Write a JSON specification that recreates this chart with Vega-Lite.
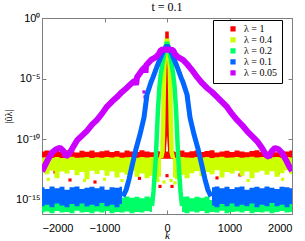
{
"$schema":"https://vega.github.io/schema/vega-lite/v6.json",
"width":250,"height":196,
"autosize":"none",
"padding":{"left":42,"top":18,"right":13,"bottom":27},
"background":"white",
"title":{"text":"t = 0.1","font":"Liberation Serif","fontSize":12,"fontWeight":"normal","offset":-2,"color":"black"},
"config":{"view":{"stroke":"#7f7f7f","strokeWidth":1},"axis":{"grid":false,"domain":false,"tickColor":"#7f7f7f","tickSize":-4,"labelFont":"Liberation Sans","labelFontSize":11,"labelColor":"black"}},
"datasets":{
"pt":[
{"l":"1","k":-1552,"v":4.4e-14},{"l":"1","k":-1152,"v":3e-14},{"l":"1","k":-1792,"v":2e-13},{"l":"1","k":800,"v":6.5e-14},{"l":"1","k":1168,"v":1.15e-13},{"l":"1","k":1776,"v":1.66e-13},{"l":"1","k":-112,"v":1.3e-14},{"l":"1","k":80,"v":1.3e-14},{"l":"1","k":0,"v":1e-13},{"l":"1","k":-440,"v":6e-14},
{"l":"0.4","k":-144,"v":4e-14},{"l":"0.4","k":-48,"v":3e-14},{"l":"0.4","k":64,"v":4e-14},{"l":"0.4","k":128,"v":2.5e-14},{"l":"0.4","k":-1320,"v":4e-14},{"l":"0.4","k":-1000,"v":5e-14},{"l":"0.4","k":-720,"v":4e-14},{"l":"0.4","k":600,"v":5e-14},{"l":"0.4","k":1300,"v":4e-14},{"l":"0.4","k":1850,"v":5e-14},{"l":"0.4","k":-1900,"v":5e-14},
{"l":"0.05","k":-352,"v":3.1e-7},{"l":"0.05","k":-368,"v":8e-7},{"l":"0.05","k":336,"v":3.2e-7}
],
"rf":[
{"l":"1","k":-2000,"hi":1e-11},{"l":"1","k":-1920,"hi":1.2e-11},{"l":"1","k":-1840,"hi":8.5e-12},{"l":"1","k":-1760,"hi":1.1e-11},{"l":"1","k":-1680,"hi":9e-12},{"l":"1","k":-1600,"hi":1.25e-11},{"l":"1","k":-1520,"hi":1e-11},{"l":"1","k":-1440,"hi":8e-12},{"l":"1","k":-1360,"hi":1.15e-11},{"l":"1","k":-1280,"hi":9.5e-12},{"l":"1","k":-1200,"hi":1.2e-11},{"l":"1","k":-1120,"hi":8.5e-12},{"l":"1","k":-1040,"hi":1.05e-11},{"l":"1","k":-960,"hi":1.2e-11},{"l":"1","k":-880,"hi":9e-12},{"l":"1","k":-800,"hi":1.1e-11},{"l":"1","k":-720,"hi":8e-12},{"l":"1","k":-640,"hi":1.2e-11},{"l":"1","k":-560,"hi":1e-11},{"l":"1","k":-480,"hi":9e-12},{"l":"1","k":-400,"hi":1.25e-11},{"l":"1","k":-320,"hi":1e-11},{"l":"1","k":-240,"hi":8.5e-12},{"l":"1","k":-160,"hi":1.1e-11},{"l":"1","k":-80,"hi":9e-12},{"l":"1","k":-40,"hi":1e-11},
{"l":"1","k":40,"hi":1e-11},{"l":"1","k":80,"hi":1.1e-11},{"l":"1","k":160,"hi":9e-12},{"l":"1","k":240,"hi":1.2e-11},{"l":"1","k":320,"hi":8.5e-12},{"l":"1","k":400,"hi":1.05e-11},{"l":"1","k":480,"hi":1.2e-11},{"l":"1","k":560,"hi":9e-12},{"l":"1","k":640,"hi":1.1e-11},{"l":"1","k":720,"hi":1.25e-11},{"l":"1","k":800,"hi":8e-12},{"l":"1","k":880,"hi":1e-11},{"l":"1","k":960,"hi":1.15e-11},{"l":"1","k":1040,"hi":9e-12},{"l":"1","k":1120,"hi":1.2e-11},{"l":"1","k":1200,"hi":1e-11},{"l":"1","k":1280,"hi":8.5e-12},{"l":"1","k":1360,"hi":1.1e-11},{"l":"1","k":1440,"hi":1.25e-11},{"l":"1","k":1520,"hi":9e-12},{"l":"1","k":1600,"hi":1e-11},{"l":"1","k":1680,"hi":1.2e-11},{"l":"1","k":1760,"hi":8.5e-12},{"l":"1","k":1840,"hi":1.1e-11},{"l":"1","k":1920,"hi":1e-11},{"l":"1","k":2000,"hi":1.2e-11}
],
"rc":[
{"l":"1","k":-48,"v":5.6e-12},{"l":"1","k":-20,"v":1e-9},{"l":"1","k":-8,"v":1e-5},{"l":"1","k":-3,"v":0.01},{"l":"1","k":0,"v":0.078},{"l":"1","k":3,"v":0.01},{"l":"1","k":8,"v":1e-5},{"l":"1","k":20,"v":1e-9},{"l":"1","k":48,"v":5.6e-12}
],
"yf":[
{"l":"0.4","sd":"L","k":-2000,"hi":3.2e-12,"lo":2e-13},{"l":"0.4","sd":"L","k":-1920,"hi":3.5e-12,"lo":1.3e-13},{"l":"0.4","sd":"L","k":-1840,"hi":3e-12,"lo":2.5e-13},{"l":"0.4","sd":"L","k":-1760,"hi":3.4e-12,"lo":6e-14},{"l":"0.4","sd":"L","k":-1680,"hi":2.9e-12,"lo":2.2e-13},{"l":"0.4","sd":"L","k":-1600,"hi":3.3e-12,"lo":1.5e-13},{"l":"0.4","sd":"L","k":-1520,"hi":3.6e-12,"lo":3e-13},{"l":"0.4","sd":"L","k":-1440,"hi":3e-12,"lo":1.1e-13},{"l":"0.4","sd":"L","k":-1360,"hi":3.2e-12,"lo":2e-13},{"l":"0.4","sd":"L","k":-1280,"hi":3.5e-12,"lo":5e-14},{"l":"0.4","sd":"L","k":-1200,"hi":2.9e-12,"lo":2.5e-13},{"l":"0.4","sd":"L","k":-1120,"hi":3.3e-12,"lo":1.4e-13},{"l":"0.4","sd":"L","k":-1040,"hi":3e-12,"lo":2.8e-13},{"l":"0.4","sd":"L","k":-960,"hi":3.4e-12,"lo":1e-13},{"l":"0.4","sd":"L","k":-880,"hi":3.1e-12,"lo":2.2e-13},{"l":"0.4","sd":"L","k":-800,"hi":3.6e-12,"lo":7e-14},{"l":"0.4","sd":"L","k":-720,"hi":3e-12,"lo":1.8e-13},{"l":"0.4","sd":"L","k":-640,"hi":3.3e-12,"lo":1.2e-13},{"l":"0.4","sd":"L","k":-560,"hi":3.5e-12,"lo":2.5e-13},{"l":"0.4","sd":"L","k":-480,"hi":3e-12,"lo":8e-14},{"l":"0.4","sd":"L","k":-400,"hi":3.4e-12,"lo":1.5e-13},{"l":"0.4","sd":"L","k":-320,"hi":3.1e-12,"lo":6e-14},{"l":"0.4","sd":"L","k":-240,"hi":3.5e-12,"lo":1e-13},{"l":"0.4","sd":"L","k":-160,"hi":3.2e-12,"lo":5e-14},{"l":"0.4","sd":"L","k":-96,"hi":3.6e-12,"lo":8e-14},
{"l":"0.4","sd":"R","k":96,"hi":3.4e-12,"lo":7e-14},{"l":"0.4","sd":"R","k":160,"hi":3e-12,"lo":5e-14},{"l":"0.4","sd":"R","k":240,"hi":3.5e-12,"lo":1.2e-13},{"l":"0.4","sd":"R","k":320,"hi":3.2e-12,"lo":6e-14},{"l":"0.4","sd":"R","k":400,"hi":3e-12,"lo":1.6e-13},{"l":"0.4","sd":"R","k":480,"hi":3.4e-12,"lo":2.4e-13},{"l":"0.4","sd":"R","k":560,"hi":3.1e-12,"lo":9e-14},{"l":"0.4","sd":"R","k":640,"hi":3.5e-12,"lo":2e-13},{"l":"0.4","sd":"R","k":720,"hi":2.9e-12,"lo":1.3e-13},{"l":"0.4","sd":"R","k":800,"hi":3.3e-12,"lo":2.8e-13},{"l":"0.4","sd":"R","k":880,"hi":3.6e-12,"lo":7e-14},{"l":"0.4","sd":"R","k":960,"hi":3e-12,"lo":2e-13},{"l":"0.4","sd":"R","k":1040,"hi":3.2e-12,"lo":1.5e-13},{"l":"0.4","sd":"R","k":1120,"hi":3.5e-12,"lo":2.6e-13},{"l":"0.4","sd":"R","k":1200,"hi":3e-12,"lo":1e-13},{"l":"0.4","sd":"R","k":1280,"hi":3.3e-12,"lo":2.2e-13},{"l":"0.4","sd":"R","k":1360,"hi":3.6e-12,"lo":6e-14},{"l":"0.4","sd":"R","k":1440,"hi":3.1e-12,"lo":1.8e-13},{"l":"0.4","sd":"R","k":1520,"hi":3.4e-12,"lo":2.5e-13},{"l":"0.4","sd":"R","k":1600,"hi":3e-12,"lo":1.2e-13},{"l":"0.4","sd":"R","k":1680,"hi":3.3e-12,"lo":2.3e-13},{"l":"0.4","sd":"R","k":1760,"hi":3.5e-12,"lo":8e-14},{"l":"0.4","sd":"R","k":1840,"hi":3e-12,"lo":1.6e-13},{"l":"0.4","sd":"R","k":1920,"hi":3.4e-12,"lo":2.8e-13},{"l":"0.4","sd":"R","k":2000,"hi":3.1e-12,"lo":1.4e-13}
],
"yc":[
{"l":"0.4","k":-96,"v":2.8e-12},{"l":"0.4","k":-72,"v":1e-11},{"l":"0.4","k":-60,"v":3.2e-9},{"l":"0.4","k":-52,"v":1e-6},{"l":"0.4","k":-44,"v":6.3e-5},{"l":"0.4","k":-32,"v":0.001},{"l":"0.4","k":-16,"v":0.0079},{"l":"0.4","k":0,"v":0.0186},{"l":"0.4","k":16,"v":0.0079},{"l":"0.4","k":32,"v":0.001},{"l":"0.4","k":44,"v":6.3e-5},{"l":"0.4","k":52,"v":1e-6},{"l":"0.4","k":60,"v":3.2e-9},{"l":"0.4","k":72,"v":1e-11},{"l":"0.4","k":96,"v":2.8e-12}
],
"gf":[
{"l":"0.2","sd":"L","k":-2000,"hi":1e-15,"lo":9e-17},{"l":"0.2","sd":"L","k":-1920,"hi":7e-16,"lo":1.1e-16},{"l":"0.2","sd":"L","k":-1840,"hi":1.3e-15,"lo":8e-17},{"l":"0.2","sd":"L","k":-1760,"hi":8e-16,"lo":1.2e-16},{"l":"0.2","sd":"L","k":-1680,"hi":1.1e-15,"lo":9e-17},{"l":"0.2","sd":"L","k":-1600,"hi":6e-16,"lo":1e-16},{"l":"0.2","sd":"L","k":-1520,"hi":1.2e-15,"lo":8e-17},{"l":"0.2","sd":"L","k":-1440,"hi":9e-16,"lo":1.3e-16},{"l":"0.2","sd":"L","k":-1360,"hi":7e-16,"lo":9e-17},{"l":"0.2","sd":"L","k":-1280,"hi":1.3e-15,"lo":1e-16},{"l":"0.2","sd":"L","k":-1200,"hi":1e-15,"lo":8e-17},{"l":"0.2","sd":"L","k":-1120,"hi":8e-16,"lo":1.1e-16},{"l":"0.2","sd":"L","k":-1040,"hi":1.2e-15,"lo":9e-17},{"l":"0.2","sd":"L","k":-960,"hi":7e-16,"lo":1.2e-16},{"l":"0.2","sd":"L","k":-880,"hi":1.1e-15,"lo":8e-17},{"l":"0.2","sd":"L","k":-800,"hi":9e-16,"lo":1e-16},{"l":"0.2","sd":"L","k":-720,"hi":1.6e-15,"lo":9e-17},{"l":"0.2","sd":"L","k":-640,"hi":1.9e-15,"lo":1.1e-16},{"l":"0.2","sd":"L","k":-560,"hi":1.5e-15,"lo":8e-17},{"l":"0.2","sd":"L","k":-480,"hi":1.8e-15,"lo":1e-16},{"l":"0.2","sd":"L","k":-400,"hi":1.4e-15,"lo":9e-17},{"l":"0.2","sd":"L","k":-320,"hi":1.9e-15,"lo":1.2e-16},{"l":"0.2","sd":"L","k":-240,"hi":1.6e-15,"lo":1e-16},
{"l":"0.2","sd":"R","k":240,"hi":1.7e-15,"lo":1e-16},{"l":"0.2","sd":"R","k":320,"hi":1.9e-15,"lo":8e-17},{"l":"0.2","sd":"R","k":400,"hi":1.4e-15,"lo":1.1e-16},{"l":"0.2","sd":"R","k":480,"hi":1.8e-15,"lo":9e-17},{"l":"0.2","sd":"R","k":560,"hi":1.5e-15,"lo":1.2e-16},{"l":"0.2","sd":"R","k":640,"hi":1.9e-15,"lo":8e-17},{"l":"0.2","sd":"R","k":720,"hi":1e-15,"lo":1e-16},{"l":"0.2","sd":"R","k":800,"hi":8e-16,"lo":9e-17},{"l":"0.2","sd":"R","k":880,"hi":1.2e-15,"lo":1.3e-16},{"l":"0.2","sd":"R","k":960,"hi":7e-16,"lo":8e-17},{"l":"0.2","sd":"R","k":1040,"hi":1.1e-15,"lo":1e-16},{"l":"0.2","sd":"R","k":1120,"hi":9e-16,"lo":1.1e-16},{"l":"0.2","sd":"R","k":1200,"hi":1.3e-15,"lo":9e-17},{"l":"0.2","sd":"R","k":1280,"hi":7e-16,"lo":1.2e-16},{"l":"0.2","sd":"R","k":1360,"hi":1e-15,"lo":8e-17},{"l":"0.2","sd":"R","k":1440,"hi":1.2e-15,"lo":1e-16},{"l":"0.2","sd":"R","k":1520,"hi":8e-16,"lo":9e-17},{"l":"0.2","sd":"R","k":1600,"hi":1.1e-15,"lo":1.1e-16},{"l":"0.2","sd":"R","k":1680,"hi":6e-16,"lo":8e-17},{"l":"0.2","sd":"R","k":1760,"hi":1.3e-15,"lo":1e-16},{"l":"0.2","sd":"R","k":1840,"hi":9e-16,"lo":1.2e-16},{"l":"0.2","sd":"R","k":1920,"hi":1.1e-15,"lo":9e-17},{"l":"0.2","sd":"R","k":2000,"hi":8e-16,"lo":1e-16}
],
"gc":[
{"l":"0.2","k":-240,"v":3.2e-16},{"l":"0.2","k":-216,"v":5e-15},{"l":"0.2","k":-192,"v":3.2e-13},{"l":"0.2","k":-176,"v":6.3e-12},{"l":"0.2","k":-160,"v":5e-10},{"l":"0.2","k":-144,"v":3.2e-8},{"l":"0.2","k":-120,"v":2.5e-6},{"l":"0.2","k":-96,"v":3.2e-5},{"l":"0.2","k":-64,"v":3.2e-4},{"l":"0.2","k":-32,"v":0.0025},{"l":"0.2","k":0,"v":0.0105},{"l":"0.2","k":32,"v":0.0025},{"l":"0.2","k":64,"v":3.2e-4},{"l":"0.2","k":96,"v":3.2e-5},{"l":"0.2","k":120,"v":2.5e-6},{"l":"0.2","k":144,"v":3.2e-8},{"l":"0.2","k":160,"v":5e-10},{"l":"0.2","k":176,"v":6.3e-12},{"l":"0.2","k":192,"v":3.2e-13},{"l":"0.2","k":216,"v":5e-15},{"l":"0.2","k":240,"v":3.2e-16}
],
"bf":[
{"l":"0.1","sd":"L","k":-2000,"hi":1.1e-14,"lo":3e-16},{"l":"0.1","sd":"L","k":-1920,"hi":8e-15,"lo":4e-16},{"l":"0.1","sd":"L","k":-1840,"hi":1.3e-14,"lo":2.5e-16},{"l":"0.1","sd":"L","k":-1760,"hi":9e-15,"lo":5e-16},{"l":"0.1","sd":"L","k":-1680,"hi":1.2e-14,"lo":3.5e-16},{"l":"0.1","sd":"L","k":-1600,"hi":7e-15,"lo":2.5e-16},{"l":"0.1","sd":"L","k":-1520,"hi":1.1e-14,"lo":4.5e-16},{"l":"0.1","sd":"L","k":-1440,"hi":1.3e-14,"lo":3e-16},{"l":"0.1","sd":"L","k":-1360,"hi":8e-15,"lo":5e-16},{"l":"0.1","sd":"L","k":-1280,"hi":1e-14,"lo":2.8e-16},{"l":"0.1","sd":"L","k":-1200,"hi":1.2e-14,"lo":4e-16},{"l":"0.1","sd":"L","k":-1120,"hi":9e-15,"lo":3e-16},{"l":"0.1","sd":"L","k":-1040,"hi":1.3e-14,"lo":5.5e-16},{"l":"0.1","sd":"L","k":-960,"hi":7e-15,"lo":3e-16},{"l":"0.1","sd":"L","k":-880,"hi":1.1e-14,"lo":4e-16},{"l":"0.1","sd":"L","k":-800,"hi":1e-14,"lo":2.5e-16},{"l":"0.1","sd":"L","k":-720,"hi":1.2e-14,"lo":4.5e-16},
{"l":"0.1","sd":"R","k":720,"hi":1.1e-14,"lo":3.5e-16},{"l":"0.1","sd":"R","k":800,"hi":1.3e-14,"lo":2.5e-16},{"l":"0.1","sd":"R","k":880,"hi":9e-15,"lo":4.5e-16},{"l":"0.1","sd":"R","k":960,"hi":1.2e-14,"lo":3e-16},{"l":"0.1","sd":"R","k":1040,"hi":8e-15,"lo":5e-16},{"l":"0.1","sd":"R","k":1120,"hi":1.1e-14,"lo":2.8e-16},{"l":"0.1","sd":"R","k":1200,"hi":1.3e-14,"lo":4e-16},{"l":"0.1","sd":"R","k":1280,"hi":7e-15,"lo":3e-16},{"l":"0.1","sd":"R","k":1360,"hi":1e-14,"lo":5e-16},{"l":"0.1","sd":"R","k":1440,"hi":1.2e-14,"lo":2.5e-16},{"l":"0.1","sd":"R","k":1520,"hi":9e-15,"lo":4e-16},{"l":"0.1","sd":"R","k":1600,"hi":1.3e-14,"lo":3e-16},{"l":"0.1","sd":"R","k":1680,"hi":1e-14,"lo":5.5e-16},{"l":"0.1","sd":"R","k":1760,"hi":8e-15,"lo":3e-16},{"l":"0.1","sd":"R","k":1840,"hi":1.2e-14,"lo":4e-16},{"l":"0.1","sd":"R","k":1920,"hi":1.1e-14,"lo":2.5e-16},{"l":"0.1","sd":"R","k":2000,"hi":9e-15,"lo":4.5e-16}
],
"bc":[
{"l":"0.1","k":-704,"v":2e-15},{"l":"0.1","k":-656,"v":6.3e-15},{"l":"0.1","k":-608,"v":5e-14},{"l":"0.1","k":-560,"v":6.3e-13},{"l":"0.1","k":-496,"v":1.6e-11},{"l":"0.1","k":-432,"v":2.5e-10},{"l":"0.1","k":-368,"v":6.3e-9},{"l":"0.1","k":-320,"v":5e-7},{"l":"0.1","k":-256,"v":5e-6},{"l":"0.1","k":-224,"v":1.26e-5},{"l":"0.1","k":-160,"v":1e-4},{"l":"0.1","k":-96,"v":6.3e-4},{"l":"0.1","k":-64,"v":0.0016},{"l":"0.1","k":-32,"v":0.0032},{"l":"0.1","k":0,"v":0.0054},{"l":"0.1","k":32,"v":0.0032},{"l":"0.1","k":64,"v":0.0016},{"l":"0.1","k":96,"v":6.3e-4},{"l":"0.1","k":160,"v":1e-4},{"l":"0.1","k":224,"v":1.26e-5},{"l":"0.1","k":256,"v":5e-6},{"l":"0.1","k":320,"v":5e-7},{"l":"0.1","k":368,"v":6.3e-9},{"l":"0.1","k":432,"v":2.5e-10},{"l":"0.1","k":496,"v":1.6e-11},{"l":"0.1","k":560,"v":6.3e-13},{"l":"0.1","k":608,"v":5e-14},{"l":"0.1","k":656,"v":6.3e-15},{"l":"0.1","k":704,"v":2e-15}
],
"mc":[
{"l":"0.05","k":-2000,"v":2.2e-13},{"l":"0.05","k":-1952,"v":7e-13},{"l":"0.05","k":-1904,"v":2.2e-12},{"l":"0.05","k":-1840,"v":8e-12},{"l":"0.05","k":-1776,"v":1.5e-11},{"l":"0.05","k":-1712,"v":2e-11},{"l":"0.05","k":-1664,"v":1.2e-11},{"l":"0.05","k":-1616,"v":3.8e-12},{"l":"0.05","k":-1568,"v":6e-12},{"l":"0.05","k":-1504,"v":2.2e-11},{"l":"0.05","k":-1440,"v":8e-11},{"l":"0.05","k":-1360,"v":2e-10},{"l":"0.05","k":-1280,"v":5e-10},{"l":"0.05","k":-1200,"v":1.6e-9},{"l":"0.05","k":-1120,"v":4e-9},{"l":"0.05","k":-1040,"v":1.3e-8},{"l":"0.05","k":-960,"v":5e-8},{"l":"0.05","k":-880,"v":1.3e-7},{"l":"0.05","k":-800,"v":3e-7},{"l":"0.05","k":-720,"v":8e-7},{"l":"0.05","k":-640,"v":1.8e-6},{"l":"0.05","k":-560,"v":4.5e-6},{"l":"0.05","k":-512,"v":7e-6},{"l":"0.05","k":-496,"v":3e-6},{"l":"0.05","k":-480,"v":1.3e-5},{"l":"0.05","k":-400,"v":5e-5},{"l":"0.05","k":-352,"v":9e-5},{"l":"0.05","k":-344,"v":3e-5},{"l":"0.05","k":-336,"v":1.2e-4},{"l":"0.05","k":-256,"v":3.5e-4},{"l":"0.05","k":-176,"v":6e-4},{"l":"0.05","k":-128,"v":0.0011},{"l":"0.05","k":-96,"v":0.0024},
{"l":"0.05","k":0,"v":0.0025},{"l":"0.05","k":96,"v":0.0023},{"l":"0.05","k":128,"v":0.00107},{"l":"0.05","k":176,"v":6e-4},{"l":"0.05","k":256,"v":3.5e-4},{"l":"0.05","k":320,"v":1.6e-4},{"l":"0.05","k":400,"v":5.1e-5},{"l":"0.05","k":480,"v":1.38e-5},{"l":"0.05","k":560,"v":4.4e-6},{"l":"0.05","k":640,"v":1.7e-6},{"l":"0.05","k":720,"v":7.9e-7},{"l":"0.05","k":800,"v":3.1e-7},{"l":"0.05","k":880,"v":1.2e-7},{"l":"0.05","k":960,"v":4.6e-8},{"l":"0.05","k":1040,"v":1.23e-8},{"l":"0.05","k":1120,"v":3.9e-9},{"l":"0.05","k":1200,"v":1.5e-9},{"l":"0.05","k":1280,"v":4.8e-10},{"l":"0.05","k":1360,"v":1.86e-10},{"l":"0.05","k":1440,"v":7.2e-11},{"l":"0.05","k":1520,"v":1.9e-11},{"l":"0.05","k":1584,"v":5.1e-12},{"l":"0.05","k":1632,"v":3.5e-12},{"l":"0.05","k":1680,"v":1.1e-11},{"l":"0.05","k":1728,"v":1.9e-11},{"l":"0.05","k":1776,"v":1.58e-11},{"l":"0.05","k":1840,"v":7.4e-12},{"l":"0.05","k":1904,"v":1.95e-12},{"l":"0.05","k":1952,"v":6.3e-13},{"l":"0.05","k":2000,"v":2.45e-13}
]
},
"encoding":{
"x":{"field":"k","type":"quantitative","scale":{"domain":[-2000,2000],"nice":false,"zero":false},"axis":null},
"color":{"field":"l","type":"nominal","scale":{"domain":["1","0.4","0.2","0.1","0.05"],"range":["#ff0000","#ccff00","#00ff66","#0066ff","#cc00ff"]},"legend":null}
},
"layer":[
{"data":{"name":"pt"},"mark":{"type":"point","shape":"square","filled":true,"size":10,"opacity":1,"clip":true},
"encoding":{
"x":{"field":"k","type":"quantitative","scale":{"domain":[-2000,2000],"nice":false,"zero":false},"axis":{"values":[-2000,-1000,0,1000,2000],"format":"d","title":"k","titleFont":"Liberation Serif","titleFontStyle":"italic","titleFontWeight":"normal","titleFontSize":11,"titlePadding":-4,"labelPadding":12}},
"y":{"field":"v","type":"quantitative","scale":{"type":"log","domain":[6.9e-17,1],"nice":false},"axis":{"values":[1,1e-5,1e-10,1e-15],"labelExpr":"datum.value >= 0.5 ? '10⁰' : datum.value >= 5e-6 ? '10⁻⁵' : datum.value >= 5e-11 ? '10⁻¹⁰' : '10⁻¹⁵'","title":"|ûλ|","titleFont":"Liberation Serif","titleFontWeight":"normal","titleFontSize":10,"titlePadding":2,"labelPadding":6}},
"color":{"field":"l","type":"nominal","scale":{"domain":["1","0.4","0.2","0.1","0.05"],"range":["#ff0000","#ccff00","#00ff66","#0066ff","#cc00ff"]},"legend":{"title":null,"orient":"none","legendX":171,"legendY":2,"fillColor":"white","strokeColor":"black","padding":5,"symbolType":"square","symbolSize":14,"symbolOffset":10,"labelFont":"Liberation Serif","labelFontSize":10,"labelOffset":6,"rowPadding":0,"clipHeight":7.7,"labelExpr":"'λ = ' + datum.label","cornerRadius":0}}
}},
{"data":{"name":"rf"},"mark":{"type":"area","interpolate":"step","opacity":1,"clip":true},"encoding":{"y":{"field":"hi","type":"quantitative","scale":{"type":"log","domain":[6.9e-17,1],"nice":false},"axis":null},"y2":{"datum":2.5e-12}}},
{"data":{"name":"rc"},"mark":{"type":"line","strokeWidth":3.5,"strokeJoin":"bevel","clip":true},"encoding":{"y":{"field":"v","type":"quantitative","scale":{"type":"log","domain":[6.9e-17,1],"nice":false},"axis":null}}},
{"data":{"name":"yf"},"mark":{"type":"area","interpolate":"step","opacity":1,"clip":true},"encoding":{"y":{"field":"hi","type":"quantitative","scale":{"type":"log","domain":[6.9e-17,1],"nice":false},"axis":null},"y2":{"field":"lo"},"detail":{"field":"sd"}}},
{"data":{"name":"yc"},"mark":{"type":"line","strokeWidth":4.5,"strokeJoin":"bevel","clip":true},"encoding":{"y":{"field":"v","type":"quantitative","scale":{"type":"log","domain":[6.9e-17,1],"nice":false},"axis":null}}},
{"data":{"name":"gf"},"mark":{"type":"area","interpolate":"step","opacity":1,"clip":true},"encoding":{"y":{"field":"hi","type":"quantitative","scale":{"type":"log","domain":[6.9e-17,1],"nice":false},"axis":null},"y2":{"field":"lo"},"detail":{"field":"sd"}}},
{"data":{"name":"gc"},"mark":{"type":"line","strokeWidth":4.5,"strokeJoin":"bevel","clip":true},"encoding":{"y":{"field":"v","type":"quantitative","scale":{"type":"log","domain":[6.9e-17,1],"nice":false},"axis":null}}},
{"data":{"name":"bf"},"mark":{"type":"area","interpolate":"step","opacity":1,"clip":true},"encoding":{"y":{"field":"hi","type":"quantitative","scale":{"type":"log","domain":[6.9e-17,1],"nice":false},"axis":null},"y2":{"field":"lo"},"detail":{"field":"sd"}}},
{"data":{"name":"bc"},"mark":{"type":"line","strokeWidth":5,"strokeJoin":"bevel","clip":true},"encoding":{"y":{"field":"v","type":"quantitative","scale":{"type":"log","domain":[6.9e-17,1],"nice":false},"axis":null}}},
{"data":{"name":"mc"},"mark":{"type":"line","strokeWidth":6,"strokeJoin":"bevel","clip":true},"encoding":{
"x":{"field":"k","type":"quantitative","scale":{"domain":[-2000,2000],"nice":false,"zero":false},"axis":{"orient":"top","values":[-2000,-1000,0,1000,2000],"labels":false,"title":null}},
"y":{"field":"v","type":"quantitative","scale":{"type":"log","domain":[6.9e-17,1],"nice":false},"axis":{"orient":"right","values":[1,1e-5,1e-10,1e-15],"labels":false,"title":null}}}}
],
"resolve":{"axis":{"x":"independent","y":"independent"}}
}
